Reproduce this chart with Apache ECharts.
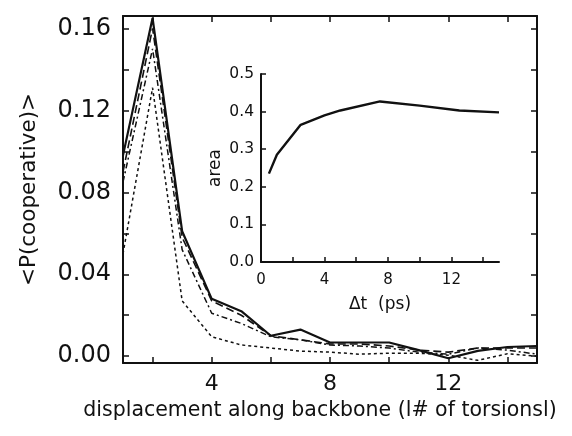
<!DOCTYPE html>
<html>
<head>
<meta charset="utf-8">
<script src="https://cdn.jsdelivr.net/npm/echarts@6/dist/echarts.min.js"></script>
<style>
  html, body { margin: 0; padding: 0; background: #fff; }
  #chart { width: 572px; height: 436px; }
</style>
</head>
<body>
<div id="chart"></div>
<script>
// main plot: displacement 1..15
const displacement = [1, 2, 3, 4, 5, 6, 7, 8, 9, 10, 11, 12, 13, 14, 15];
const solidVals    = [0.098, 0.165, 0.061, 0.028, 0.022, 0.010, 0.013, 0.0067, 0.0067, 0.0067, 0.003, -0.001, 0.0026, 0.0045, 0.005];
const dashVals     = [0.090, 0.160, 0.058, 0.027, 0.020, 0.010, 0.008, 0.006, 0.006, 0.005, 0.003, 0.002, 0.004, 0.004, 0.004];
const dashDotVals  = [0.085, 0.150, 0.052, 0.021, 0.016, 0.0095, 0.008, 0.0055, 0.005, 0.004, 0.002, 0.001, 0.004, 0.003, 0.001];
const dotVals      = [0.050, 0.131, 0.027, 0.0095, 0.0055, 0.004, 0.0025, 0.002, 0.001, 0.0015, 0.0015, 0.0005, -0.002, 0.0012, 0.0];

const mainYLabels = [0, 0.04, 0.08, 0.12, 0.16];
const mainYTicks = [0, 0.02, 0.04, 0.06, 0.08, 0.10, 0.12, 0.14, 0.16];
const mainXLabels = [4, 8, 12];
const mainXTicks = [2, 4, 6, 8, 10, 12, 14];

// inset: area vs dt
const insetDt   = [0.5, 1, 2.5, 4, 5, 7.5, 10, 12.5, 15];
const insetArea = [0.235, 0.285, 0.365, 0.39, 0.403, 0.427, 0.416, 0.403, 0.398];
const insetXLabels = [0, 4, 8, 12];
const insetXTicks = [0, 2, 4, 6, 8, 10, 12, 14];

function pairs(xs, ys) {
    return xs.map(function (x, i) { return [x, ys[i]]; });
}

var chartDom = document.getElementById('chart');
var myChart = echarts.init(chartDom);
var font = 'DejaVu Sans';
var ink = '#111';

var lineAxis = { show: true, onZero: false, lineStyle: { color: ink, width: 2 } };

var option = {
    animation: false,
    backgroundColor: '#fff',
    grid: [
        { left: 123, right: 35, top: 16, bottom: 73 },
        { left: 261, top: 74, width: 238, height: 188 }
    ],
    xAxis: [
        {
            gridIndex: 0, type: 'value', min: 1, max: 15, position: 'bottom',
            name: 'displacement along backbone (l# of torsionsl)',
            nameLocation: 'middle', nameGap: 35,
            nameTextStyle: { fontFamily: font, fontSize: 20.5, color: ink, padding: [0, 20, 0, 0] },
            axisLine: lineAxis,
            axisTick: { inside: true, length: 6, customValues: mainXTicks, lineStyle: { color: ink, width: 1.5 } },
            axisLabel: { customValues: mainXLabels, margin: 10, fontFamily: font, fontSize: 22, color: ink },
            splitLine: { show: false }
        },
        {
            gridIndex: 0, type: 'value', min: 1, max: 15, position: 'top',
            axisLine: lineAxis,
            axisTick: { inside: true, length: 6, customValues: mainXTicks, lineStyle: { color: ink, width: 1.5 } },
            axisLabel: { show: false },
            splitLine: { show: false }
        },
        {
            gridIndex: 1, type: 'value', min: 0, max: 15, position: 'bottom',
            name: 'Δt  (ps)', nameLocation: 'middle', nameGap: 34,
            nameTextStyle: { fontFamily: font, fontSize: 17, color: ink },
            axisLine: lineAxis,
            axisTick: { inside: true, length: 5, customValues: insetXTicks, lineStyle: { color: ink, width: 1.5 } },
            axisLabel: { customValues: insetXLabels, margin: 11, fontFamily: font, fontSize: 15, color: ink },
            splitLine: { show: false }
        }
    ],
    yAxis: [
        {
            gridIndex: 0, type: 'value', min: -0.0033, max: 0.166, position: 'left',
            name: '<P(cooperative)>', nameLocation: 'middle', nameGap: 83, nameRotate: 90,
            nameTextStyle: { fontFamily: font, fontSize: 21.5, color: ink, padding: [0, 0, 0, 0] },
            axisLine: lineAxis,
            axisTick: { inside: true, length: 6, customValues: mainYTicks, lineStyle: { color: ink, width: 1.5 } },
            axisLabel: {
                customValues: mainYLabels, margin: 12, fontFamily: font, fontSize: 24, color: ink,
                formatter: function (v) { return v.toFixed(2); }
            },
            splitLine: { show: false }
        },
        {
            gridIndex: 0, type: 'value', min: -0.0033, max: 0.166, position: 'right',
            axisLine: lineAxis,
            axisTick: { inside: true, length: 6, customValues: mainYTicks, lineStyle: { color: ink, width: 1.5 } },
            axisLabel: { show: false },
            splitLine: { show: false }
        },
        {
            gridIndex: 1, type: 'value', min: 0, max: 0.5, interval: 0.1, position: 'left',
            name: 'area', nameLocation: 'middle', nameGap: 37, nameRotate: 90,
            nameTextStyle: { fontFamily: font, fontSize: 17, color: ink },
            axisLine: lineAxis,
            axisTick: { inside: true, length: 5, lineStyle: { color: ink, width: 1.5 } },
            axisLabel: {
                margin: 7, fontFamily: font, fontSize: 15.5, color: ink,
                formatter: function (v) { return v.toFixed(1); }
            },
            splitLine: { show: false }
        }
    ],
    series: [
        {
            name: 'solid', type: 'line', xAxisIndex: 0, yAxisIndex: 0,
            data: pairs(displacement, solidVals), symbol: 'none',
            lineStyle: { color: ink, width: 2.2, type: 'solid' }
        },
        {
            name: 'dash', type: 'line', xAxisIndex: 0, yAxisIndex: 0,
            data: pairs(displacement, dashVals), symbol: 'none',
            lineStyle: { color: ink, width: 1.6, type: [8, 4] }
        },
        {
            name: 'dashdot', type: 'line', xAxisIndex: 0, yAxisIndex: 0,
            data: pairs(displacement, dashDotVals), symbol: 'none',
            lineStyle: { color: ink, width: 1.5, type: [6, 3, 2, 3] }
        },
        {
            name: 'dotted', type: 'line', xAxisIndex: 0, yAxisIndex: 0,
            data: pairs(displacement, dotVals), symbol: 'none',
            lineStyle: { color: ink, width: 1.5, type: [3, 3] }
        },
        {
            name: 'area', type: 'line', xAxisIndex: 2, yAxisIndex: 2,
            data: pairs(insetDt, insetArea), symbol: 'none',
            lineStyle: { color: ink, width: 2.4 }
        }
    ]
};

option && myChart.setOption(option);

window.addEventListener('resize', function () {
    myChart.resize();
});
</script>
</body>
</html>
